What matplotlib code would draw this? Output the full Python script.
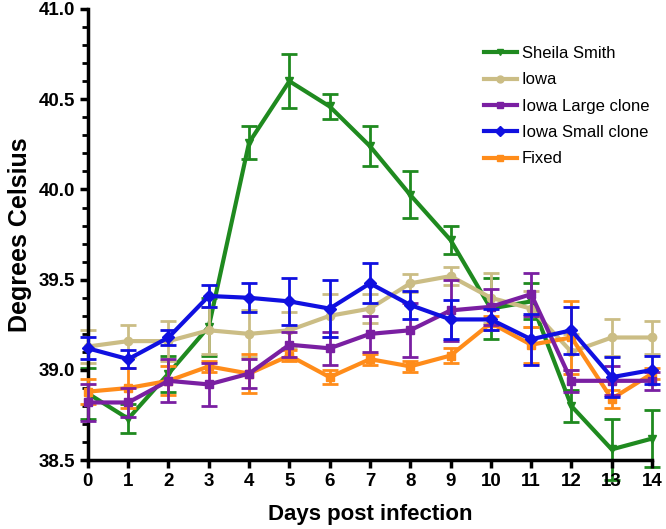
import matplotlib
matplotlib.use("Agg")
import matplotlib.pyplot as plt
from matplotlib.ticker import MultipleLocator, FormatStrFormatter
from matplotlib.lines import Line2D

plt.rcParams['font.family'] = ['Liberation Sans', 'DejaVu Sans']

days = list(range(15))

sheila = [38.87, 38.73, 38.98, 39.24, 40.26, 40.60, 40.46, 40.24, 39.97, 39.72, 39.34, 39.38, 38.80, 38.56, 38.62]
sheila_err = [0.14, 0.08, 0.10, 0.16, 0.09, 0.15, 0.07, 0.11, 0.13, 0.08, 0.17, 0.10, 0.09, 0.17, 0.16]

iowa = [39.13, 39.16, 39.16, 39.22, 39.20, 39.22, 39.30, 39.34, 39.48, 39.52, 39.40, 39.34, 39.10, 39.18, 39.18]
iowa_err = [0.09, 0.09, 0.11, 0.13, 0.13, 0.10, 0.12, 0.08, 0.05, 0.05, 0.14, 0.10, 0.10, 0.10, 0.09]

large = [38.82, 38.82, 38.94, 38.92, 38.98, 39.14, 39.12, 39.20, 39.22, 39.33, 39.35, 39.42, 38.94, 38.94, 38.94]
large_err = [0.10, 0.08, 0.12, 0.12, 0.08, 0.07, 0.09, 0.10, 0.15, 0.17, 0.10, 0.12, 0.06, 0.08, 0.05]

small = [39.12, 39.06, 39.18, 39.41, 39.40, 39.38, 39.34, 39.48, 39.36, 39.28, 39.28, 39.17, 39.22, 38.96, 39.00]
small_err = [0.06, 0.05, 0.04, 0.06, 0.08, 0.13, 0.16, 0.11, 0.08, 0.11, 0.06, 0.14, 0.13, 0.11, 0.08]

fixed = [38.88, 38.90, 38.94, 39.02, 38.98, 39.08, 38.96, 39.06, 39.02, 39.08, 39.26, 39.14, 39.18, 38.84, 38.98]
fixed_err = [0.07, 0.11, 0.08, 0.03, 0.11, 0.03, 0.04, 0.03, 0.03, 0.04, 0.04, 0.10, 0.20, 0.05, 0.03]

series = [
    ("Sheila Smith", sheila, sheila_err, "#1f8a1f", "v", 1),
    ("Iowa", iowa, iowa_err, "#cbbd85", "o", 2),
    ("Iowa Large clone", large, large_err, "#7a1fa2", "s", 4),
    ("Iowa Small clone", small, small_err, "#1010e0", "D", 5),
    ("Fixed", fixed, fixed_err, "#ff8c1a", "s", 3),
]

fig = plt.figure(figsize=(6.66, 5.29), dpi=100)
ax = fig.add_axes([0.132, 0.13, 0.847, 0.853])

handles = []
for label, vals, err, color, marker, z in series:
    ax.errorbar(days, vals, yerr=err, color=color, marker=marker, markersize=6,
                linewidth=3, elinewidth=2, capsize=6, capthick=2, zorder=z,
                clip_on=False)
    handles.append(Line2D([], [], color=color, marker=marker, markersize=5,
                          linewidth=3, label=label))

ax.set_xlim(0, 14)
ax.set_ylim(38.5, 41.0)
ax.set_xticks(days)
ax.yaxis.set_major_locator(MultipleLocator(0.5))
ax.yaxis.set_minor_locator(MultipleLocator(0.1))
ax.yaxis.set_major_formatter(FormatStrFormatter('%.1f'))

for s in ['top', 'right']:
    ax.spines[s].set_visible(False)
for s in ['left', 'bottom']:
    ax.spines[s].set_linewidth(2.5)
ax.tick_params(axis='both', which='major', width=2.5, length=6, labelsize=13.5, pad=3)
ax.tick_params(axis='y', which='minor', width=2, length=4)
for lab in ax.get_xticklabels() + ax.get_yticklabels():
    lab.set_fontweight('bold')

ax.set_xlabel("Days post infection", fontsize=16, fontweight='bold', labelpad=10)
ax.set_ylabel("Degrees Celsius", fontsize=18, fontweight='bold', labelpad=5)

fig.legend(handles=handles, loc='upper left', bbox_to_anchor=(0.726, 0.913),
           frameon=False, fontsize=12, borderpad=0, borderaxespad=0,
           handlelength=2.0, handletextpad=0.3, labelspacing=0.68)

fig.savefig("out.png", dpi=100)
